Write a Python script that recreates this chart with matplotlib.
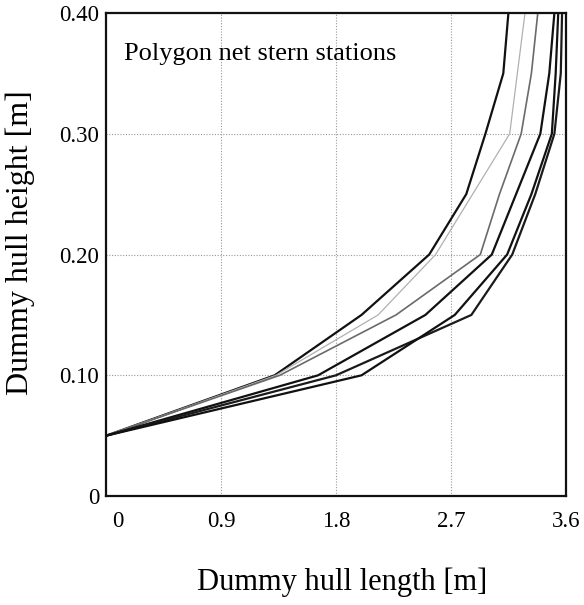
import matplotlib
matplotlib.use("Agg")
import matplotlib.pyplot as plt
import matplotlib.transforms as mtransforms

plt.rcParams['font.family'] = ['Liberation Serif', 'DejaVu Serif']

# Heights (y) at which each station polygon has vertices [m]
heights = [0.05, 0.10, 0.15, 0.20, 0.25, 0.30, 0.35, 0.40]

# Length coordinate (x) of each station polygon at those heights [m]
station_a = [0.0, 1.32, 2.00, 2.53, 2.82, 2.97, 3.11, 3.15]
station_b = [0.0, 1.33, 2.13, 2.58, 2.87, 3.16, 3.22, 3.28]
station_c = [0.0, 1.36, 2.27, 2.93, 3.08, 3.25, 3.33, 3.38]
station_d = [0.0, 1.66, 2.50, 3.02, 3.21, 3.40, 3.47, 3.51]
station_e = [0.0, 1.80, 2.86, 3.18, 3.36, 3.51, 3.56, 3.57]
station_f = [0.0, 2.00, 2.73, 3.14, 3.33, 3.49, 3.52, 3.54]

x_ticks = [0, 0.9, 1.8, 2.7, 3.6]
x_tick_labels = ["0", "0.9", "1.8", "2.7", "3.6"]
y_ticks = [0, 0.1, 0.2, 0.3, 0.4]
y_tick_labels = ["0", "0.10", "0.20", "0.30", "0.40"]

annotation = "Polygon net stern stations"
x_label = "Dummy hull length [m]"
y_label = "Dummy hull height [m]"

fig = plt.figure(figsize=(5.84, 6.05), dpi=100)
ax = fig.add_axes([0.1815, 0.180, 0.969 - 0.1815, 0.9785 - 0.180])

styles = [
    (station_a, "#111111", 1.6),
    (station_b, "#b0b0b0", 0.9),
    (station_c, "#6a6a6a", 1.2),
    (station_d, "#111111", 1.6),
    (station_e, "#1a1a1a", 1.6),
    (station_f, "#111111", 1.6),
]
for xs, col, lw in styles:
    ax.plot(xs, heights, color=col, lw=lw, solid_joinstyle='miter', zorder=3)

ax.set_xlim(0, 3.6)
ax.set_ylim(0, 0.4)
ax.set_xticks(x_ticks)
ax.set_xticklabels(x_tick_labels)
ax.set_yticks(y_ticks)
ax.set_yticklabels(y_tick_labels)
ax.tick_params(axis='both', length=0, labelsize=16.5)
ax.tick_params(axis='x', pad=11)
ax.tick_params(axis='y', pad=5)

# shift the "0" x label slightly right as in the reference
lbl0 = ax.get_xticklabels()[0]
lbl0.set_transform(lbl0.get_transform() + mtransforms.ScaledTranslation(12/100, 0, fig.dpi_scale_trans))

ax.grid(True, color="#999999", linestyle=(0, (1, 1.5)), linewidth=0.8, zorder=1)
for s in ax.spines.values():
    s.set_linewidth(1.6)
    s.set_color("#111111")
    s.set_zorder(4)

ax.text(0.04, 0.915, annotation, transform=ax.transAxes, fontsize=19,
        ha='left', va='center')

ax.set_xlabel(x_label, fontsize=22)
ax.xaxis.set_label_coords(0.513, -0.148)
ax.set_ylabel(y_label, fontsize=23, va='center')
ax.yaxis.set_label_coords(-0.187, 0.524)

fig.savefig("out.png", dpi=100)
